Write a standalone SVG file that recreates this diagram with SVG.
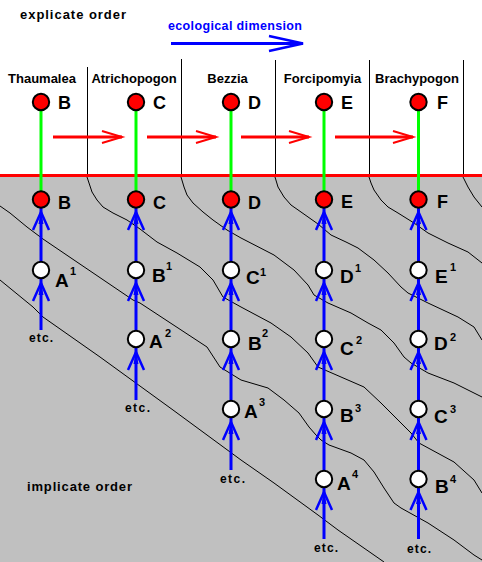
<svg xmlns="http://www.w3.org/2000/svg" width="482" height="562" viewBox="0 0 482 562">
<defs>
<style>
text{font-family:"Liberation Sans",Arial,sans-serif;font-weight:bold;fill:#000}
.hdr{font-size:13px;text-anchor:middle}
.big{font-size:18px}
.lbl{font-size:19px}
.sup{font-size:11px}
.etc{font-size:12px;text-anchor:middle}
.contour{fill:none;stroke:#000;stroke-width:1}
.div{stroke:#000;stroke-width:1}
.red{fill:#ff0000;stroke:#000;stroke-width:2}
.white{fill:#ffffff;stroke:#000;stroke-width:2}
.blue{fill:none;stroke:#0000ff;stroke-width:3;marker-mid:url(#bh)}
.green{stroke:#00ff00;stroke-width:3}
.rarrow{fill:none;stroke:#ff0000;stroke-width:3;marker-end:url(#rh)}
</style>
<marker id="bh" markerUnits="userSpaceOnUse" orient="auto" overflow="visible" markerWidth="1" markerHeight="1" refX="0" refY="0">
<path d="M-18,-8 L0,0 L-18,8" fill="none" stroke="#0000ff" stroke-width="2.5"/>
<path d="M-12,-2.5 L0,0 L-12,2.5 Z" fill="#0000ff"/>
</marker>
<marker id="rh" markerUnits="userSpaceOnUse" orient="auto" overflow="visible" markerWidth="1" markerHeight="1" refX="0" refY="0">
<path d="M-20,-6 L0,0 L-20,6" fill="none" stroke="#ff0000" stroke-width="2"/>
</marker>
<marker id="th" markerUnits="userSpaceOnUse" orient="auto" overflow="visible" markerWidth="1" markerHeight="1" refX="0" refY="0">
<path d="M-34,-7.5 L0,0 L-34,7.5" fill="none" stroke="#0000ff" stroke-width="2.5"/>
<path d="M-13,-2.5 L0,0 L-13,2.5 Z" fill="#0000ff"/>
</marker>
</defs>
<rect x="0" y="0" width="482" height="562" fill="#ffffff"/>
<rect x="0" y="175" width="482" height="387" fill="#c0c0c0"/>

<g id="contours">
<polyline class="contour" points="0,206 10,213 27,227 43,239 133,300 140,303 207,347 220,367 241,380 268,388 284,400 299,413 309,427 316,435 321,440 329,445 351,453 364,460 374,472 384,488 394,503 401,508 428,523 454,540 474,555 482,560"/>
<polyline class="contour" points="0,280 33,307 43,317 100,357 173,410 241,460 274,483 318,515 338,530 384,562"/>
<polyline class="contour" points="87,177 89,183 92,192 97,200 103,207 113,213 127,220 140,229 157,242 177,253 200,267 213,280 223,297 241,307 271,323 291,337 308,353 318,367 341,377 364,387 381,403 388,410 401,423 411,433 419,443 454,462 474,480 482,493"/>
<polyline class="contour" points="181,177 184,187 187,195 193,203 203,212 213,220 227,230 241,238 274,255 294,270 308,285 314,295 328,303 351,313 368,323 381,330 394,343 404,357 411,363 428,373 454,383 482,397"/>
<polyline class="contour" points="275,177 278,187 284,197 291,205 301,212 318,224 331,235 346,242 358,248 374,260 388,273 401,287 408,293 428,303 458,317 474,327 482,340"/>
<polyline class="contour" points="369,177 371,183 374,190 381,200 388,207 398,213 414,223 428,233 448,243 468,252 482,263"/>
<polyline class="contour" points="463,177 468,187 474,197 482,207"/>
</g>

<g id="dividers">
<line class="div" x1="87.5" y1="67" x2="87.5" y2="175"/>
<line class="div" x1="181.5" y1="59" x2="181.5" y2="175"/>
<line class="div" x1="275.5" y1="60" x2="275.5" y2="175"/>
<line class="div" x1="369.5" y1="60" x2="369.5" y2="175"/>
<line class="div" x1="463.5" y1="60" x2="463.5" y2="175"/>
</g>
<line id="boundary" x1="0" y1="175.5" x2="482" y2="175.5" stroke="#ff0000" stroke-width="3"/>

<g id="titles">
<text x="20" y="19" font-size="13" textLength="106">explicate order</text>
<text x="168" y="30" font-size="12.5" textLength="134" style="fill:#0000ff">ecological dimension</text>
<text x="27" y="491" font-size="13" textLength="105">implicate order</text>
<text class="hdr" x="42" y="83">Thaumalea</text>
<text class="hdr" x="134" y="83">Atrichopogon</text>
<text class="hdr" x="227.5" y="83">Bezzia</text>
<text class="hdr" x="322.5" y="83">Forcipomyia</text>
<text class="hdr" x="417" y="83">Brachypogon</text>
</g>

<g id="connectors">
<line x1="171" y1="43.5" x2="303" y2="43.5" stroke="#0000ff" stroke-width="3" marker-end="url(#th)"/>
<line class="rarrow" x1="53" y1="137" x2="122" y2="137"/>
<line class="rarrow" x1="147" y1="137" x2="216" y2="137"/>
<line class="rarrow" x1="241" y1="137" x2="309" y2="137"/>
<line class="rarrow" x1="335" y1="137" x2="413" y2="137"/>
<line class="green" x1="41" y1="102" x2="41" y2="199"/>
<line class="green" x1="136" y1="102" x2="136" y2="199"/>
<line class="green" x1="231" y1="102" x2="231" y2="199"/>
<line class="green" x1="324" y1="102" x2="324" y2="199"/>
<line class="green" x1="418.5" y1="102" x2="418.5" y2="199"/>
<path class="blue" d="M41,330 L41,283 L41,270"/>
<path class="blue" d="M41,270 L41,212 L41,199"/>
<path class="blue" d="M136,400 L136,352 L136,339"/>
<path class="blue" d="M136,339 L136,283 L136,270"/>
<path class="blue" d="M136,270 L136,212 L136,199"/>
<path class="blue" d="M231,470 L231,422 L231,409"/>
<path class="blue" d="M231,409 L231,352 L231,339"/>
<path class="blue" d="M231,339 L231,283 L231,270"/>
<path class="blue" d="M231,270 L231,212 L231,199"/>
<path class="blue" d="M324,539 L324,492 L324,479"/>
<path class="blue" d="M324,479 L324,422 L324,409"/>
<path class="blue" d="M324,409 L324,352 L324,339"/>
<path class="blue" d="M324,339 L324,283 L324,270"/>
<path class="blue" d="M324,270 L324,212 L324,199"/>
<path class="blue" d="M418.5,539 L418.5,492 L418.5,479"/>
<path class="blue" d="M418.5,479 L418.5,422 L418.5,409"/>
<path class="blue" d="M418.5,409 L418.5,352 L418.5,339"/>
<path class="blue" d="M418.5,339 L418.5,283 L418.5,270"/>
<path class="blue" d="M418.5,270 L418.5,212 L418.5,199"/>
</g>

<g id="etc-labels">
<text class="etc" x="41" y="342" textLength="24">etc.</text>
<text class="etc" x="137.5" y="412" textLength="25">etc.</text>
<text class="etc" x="232.5" y="483" textLength="25">etc.</text>
<text class="etc" x="326" y="552" textLength="24">etc.</text>
<text class="etc" x="419" y="553" textLength="24">etc.</text>
</g>

<g id="node-B-top"><circle class="red" cx="41" cy="102" r="8.2"/><text class="big" x="58" y="109">B</text></g>
<g id="node-C-top"><circle class="red" cx="136" cy="102" r="8.2"/><text class="big" x="153" y="109">C</text></g>
<g id="node-D-top"><circle class="red" cx="231" cy="102" r="8.2"/><text class="big" x="248" y="109">D</text></g>
<g id="node-E-top"><circle class="red" cx="324" cy="102" r="8.2"/><text class="big" x="341" y="109">E</text></g>
<g id="node-F-top"><circle class="red" cx="418.5" cy="102" r="8.2"/><text class="big" x="437" y="109">F</text></g>

<g id="node-B"><circle class="red" cx="41" cy="199.5" r="8.2"/><text class="big" x="58" y="209">B</text></g>
<g id="node-C"><circle class="red" cx="136" cy="199.5" r="8.2"/><text class="big" x="153" y="209">C</text></g>
<g id="node-D"><circle class="red" cx="231" cy="199.5" r="8.2"/><text class="big" x="248" y="209">D</text></g>
<g id="node-E"><circle class="red" cx="324" cy="199.5" r="8.2"/><text class="big" x="341" y="208">E</text></g>
<g id="node-F"><circle class="red" cx="418.5" cy="199.5" r="8.2"/><text class="big" x="437" y="208">F</text></g>

<g id="node-A1"><circle class="white" cx="41" cy="270" r="8.2"/><text class="lbl" x="55" y="287">A</text><text class="sup" x="70" y="275">1</text></g>
<g id="node-B1"><circle class="white" cx="136" cy="270" r="8.2"/><text class="lbl" x="152" y="282">B</text><text class="sup" x="166" y="270">1</text></g>
<g id="node-C1"><circle class="white" cx="231" cy="270" r="8.2"/><text class="lbl" x="246" y="284">C</text><text class="sup" x="260" y="276">1</text></g>
<g id="node-D1"><circle class="white" cx="324" cy="270" r="8.2"/><text class="lbl" x="340" y="283">D</text><text class="sup" x="355" y="272">1</text></g>
<g id="node-E1"><circle class="white" cx="418.5" cy="270" r="8.2"/><text class="lbl" x="435" y="283">E</text><text class="sup" x="450" y="271">1</text></g>

<g id="node-A2"><circle class="white" cx="136" cy="339" r="8.2"/><text class="lbl" x="149" y="348">A</text><text class="sup" x="165" y="337">2</text></g>
<g id="node-B2"><circle class="white" cx="231" cy="339" r="8.2"/><text class="lbl" x="248" y="350">B</text><text class="sup" x="262" y="337">2</text></g>
<g id="node-C2"><circle class="white" cx="324" cy="339" r="8.2"/><text class="lbl" x="340" y="355">C</text><text class="sup" x="356" y="344">2</text></g>
<g id="node-D2"><circle class="white" cx="418.5" cy="339" r="8.2"/><text class="lbl" x="434" y="350">D</text><text class="sup" x="450" y="341">2</text></g>

<g id="node-A3"><circle class="white" cx="231" cy="409" r="8.2"/><text class="lbl" x="244" y="418">A</text><text class="sup" x="259" y="406">3</text></g>
<g id="node-B3"><circle class="white" cx="324" cy="409" r="8.2"/><text class="lbl" x="340" y="422">B</text><text class="sup" x="355" y="412">3</text></g>
<g id="node-C3"><circle class="white" cx="418.5" cy="409" r="8.2"/><text class="lbl" x="434" y="423">C</text><text class="sup" x="450" y="413">3</text></g>

<g id="node-A4"><circle class="white" cx="324" cy="479" r="8.2"/><text class="lbl" x="337" y="490">A</text><text class="sup" x="352" y="478">4</text></g>
<g id="node-B4"><circle class="white" cx="418.5" cy="479" r="8.2"/><text class="lbl" x="435" y="493">B</text><text class="sup" x="450" y="483">4</text></g>
</svg>
